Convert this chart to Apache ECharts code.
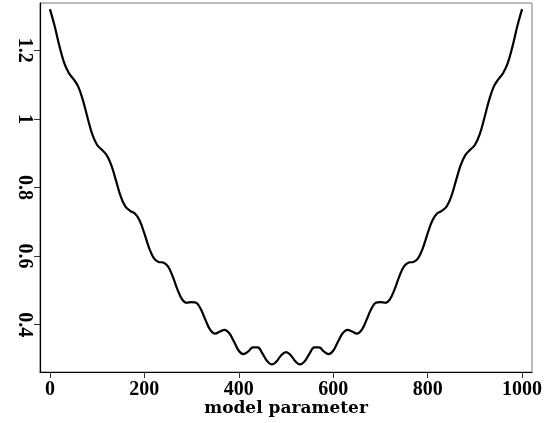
<!DOCTYPE html>
<html>
<head>
<meta charset="utf-8">
<script src="https://cdn.jsdelivr.net/npm/echarts@6/dist/echarts.min.js"></script>
<style>
  html, body { margin: 0; padding: 0; background: #fff; }
  #chart { width: 549px; height: 423px; }
</style>
</head>
<body>
<div id="chart"></div>
<script>
// Sample positions along the model parameter axis
const paramValues = [
  0, 10, 20, 30, 40, 50, 60, 70, 80, 90,
  100, 110, 120, 130, 140, 150, 160, 170, 180, 190,
  200, 210, 220, 230, 240, 250, 260, 270, 280, 290,
  300, 310, 320, 330, 340, 350, 360, 370, 380, 390,
  400, 410, 420, 430, 440, 450, 460, 470, 480, 490,
  500, 510, 520, 530, 540, 550, 560, 570, 580, 590,
  600, 610, 620, 630, 640, 650, 660, 670, 680, 690,
  700, 710, 720, 730, 740, 750, 760, 770, 780, 790,
  800, 810, 820, 830, 840, 850, 860, 870, 880, 890,
  900, 910, 920, 930, 940, 950, 960, 970, 980, 990,
  1000
];

// Objective value at each sample
const objectiveValues = [
  1.320, 1.271, 1.213, 1.164, 1.134, 1.116, 1.094, 1.054, 1.002, 0.954,
  0.924, 0.910, 0.895, 0.865, 0.820, 0.774, 0.744, 0.732, 0.724, 0.704,
  0.666, 0.624, 0.594, 0.583, 0.581, 0.570, 0.541, 0.503, 0.474, 0.464,
  0.466, 0.464, 0.444, 0.412, 0.384, 0.374, 0.380, 0.385, 0.375, 0.350,
  0.324, 0.314, 0.322, 0.334, 0.334, 0.316, 0.294, 0.284, 0.293, 0.311,
  0.320, 0.311, 0.293, 0.284, 0.294, 0.316, 0.334, 0.334, 0.322, 0.314,
  0.324, 0.350, 0.375, 0.385, 0.380, 0.374, 0.384, 0.412, 0.444, 0.464,
  0.466, 0.464, 0.474, 0.503, 0.541, 0.570, 0.581, 0.583, 0.594, 0.624,
  0.666, 0.704, 0.724, 0.732, 0.744, 0.774, 0.820, 0.865, 0.895, 0.910,
  0.924, 0.954, 1.002, 1.054, 1.094, 1.116, 1.134, 1.164, 1.213, 1.271,
  1.320
];

// Tick labels
const xTicks = [0, 200, 400, 600, 800, 1000];
const yTicks = [0.4, 0.6, 0.8, 1, 1.2];

const xName = 'model parameter';

const points = paramValues.map((x, i) => [x, objectiveValues[i]]);

const labelFont = {
  fontFamily: '"Liberation Serif", serif',
  fontWeight: 'bold',
  fontSize: 20,
  color: '#000'
};

const chart = echarts.init(document.getElementById('chart'), null, { renderer: 'canvas' });
chart.setOption({
  animation: false,
  backgroundColor: '#fff',
  grid: {
    left: 40, right: 17, top: 3, bottom: 51,
    outerBoundsMode: 'none',
    containLabel: false,
    show: true,
    borderColor: '#777',
    borderWidth: 1,
    backgroundColor: 'transparent'
  },
  xAxis: {
    type: 'value',
    min: -21,
    max: 1021,
    name: xName,
    nameLocation: 'middle',
    nameGap: 28,
    nameMoveOverlap: false,
    nameTextStyle: {
      fontFamily: '"DejaVu Serif", serif',
      fontWeight: 'bold',
      fontSize: 17,
      color: '#000'
    },
    axisLine: { show: true, onZero: false, lineStyle: { color: '#000', width: 1.2 } },
    axisTick: { show: true, length: 6, customValues: xTicks, lineStyle: { color: '#333', width: 1 } },
    axisLabel: Object.assign({
      customValues: xTicks,
      margin: 8,
      formatter: v => String(v)
    }, labelFont),
    splitLine: { show: false }
  },
  yAxis: {
    type: 'value',
    min: 0.262,
    max: 1.338,
    axisLine: { show: true, onZero: false, lineStyle: { color: '#000', width: 1.2 } },
    axisTick: { show: true, length: 6, customValues: yTicks, lineStyle: { color: '#333', width: 1 } },
    axisLabel: Object.assign({
      customValues: yTicks,
      rotate: -90,
      margin: 6,
      formatter: v => String(v)
    }, labelFont),
    splitLine: { show: false }
  },
  series: [{
    type: 'line',
    data: points,
    smooth: 0.4,
    showSymbol: false,
    lineStyle: { color: '#000', width: 2.2 },
    clip: true
  }]
});
</script>
</body>
</html>
